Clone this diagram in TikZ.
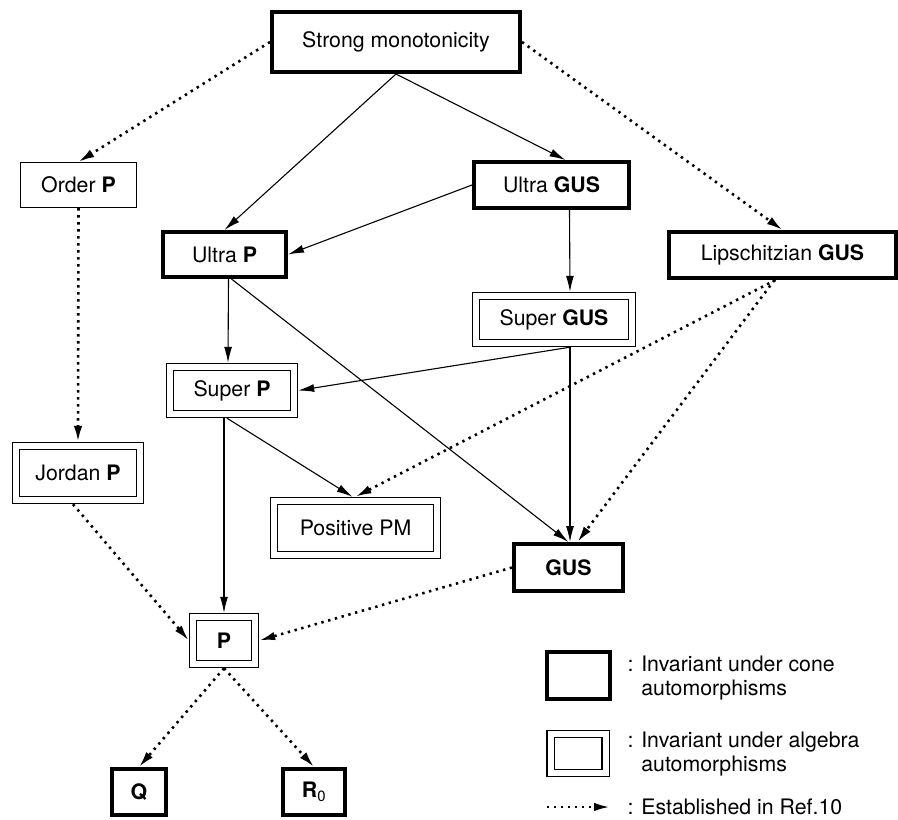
\documentclass[tikz,border=0pt]{standalone}
\usepackage{fontspec}
\setmainfont{TeX Gyre Heros}
\usetikzlibrary{arrows.meta}
\tikzset{every picture/.style={line width=1pt}}
\tikzset{
  conebox/.style={draw,line width=4pt,inner sep=0pt},
  algbox/.style={draw,line width=1.2pt,double,double distance=6pt,outer sep=4.2pt,inner sep=0pt},
  thinbox/.style={draw,line width=1.2pt,inner sep=0pt},
  impl/.style={-{Latex[length=16pt,width=8pt]},line width=1.1pt},
  refarrow/.style={-{Latex[length=16pt,width=8.5pt]},line width=2.6pt,dash pattern=on 2.4pt off 4.6pt},
}

\begin{document}
\begin{tikzpicture}[x=1pt,y=-1pt,every node/.style={font=\fontsize{21.3}{24}\selectfont}]
\useasboundingbox (0,0) rectangle (898,820);
\node[conebox,minimum width=248pt,minimum height=60pt] (strong) at (396,42) {Strong monotonicity};
\node[thinbox,minimum width=116pt,minimum height=45pt] (ordP) at (78.5,185) {Order \textbf{P}};
\node[conebox,minimum width=123pt,minimum height=45pt] (ultP) at (224.5,254.5) {Ultra \textbf{P}};
\node[conebox,minimum width=155pt,minimum height=46pt] (ultGUS) at (551.5,185) {Ultra \textbf{GUS}};
\node[conebox,minimum width=227pt,minimum height=46pt] (lipGUS) at (782.5,255) {Lipschitzian \textbf{GUS}};
\node[algbox,minimum width=156pt,minimum height=47pt] (supGUS) at (554,319.5) {Super \textbf{GUS}};
\node[algbox,minimum width=124pt,minimum height=47pt] (supP) at (232,390.5) {Super \textbf{P}};
\node[algbox,minimum width=124pt,minimum height=54pt] (jorP) at (78,473) {Jordan \textbf{P}};
\node[algbox,minimum width=163pt,minimum height=54pt] (posPM) at (355.5,528) {Positive PM};
\node[conebox,minimum width=109pt,minimum height=47pt] (gus) at (568.5,567.5) {\textbf{GUS}};
\node[algbox,minimum width=62pt,minimum height=47pt] (P) at (224,640.5) {\textbf{P}};
\node[conebox,minimum width=54pt,minimum height=46pt] (Q) at (139,792) {\textbf{Q}};
\node[conebox,minimum width=62pt,minimum height=46pt] (R0) at (314,792) {\textbf{R}\textsubscript{0}};
%
\draw[impl] (strong.south) -- (ultP.north);
\draw[impl] (strong.south) -- ([xshift=14pt]ultGUS.north);
\draw[impl] (ultGUS.west) -- (ultP.east);
\draw[impl] ([xshift=18pt]ultGUS.south) -- ([xshift=16pt]supGUS.north);
\draw[impl] ([xshift=4pt]ultP.south) -- ([xshift=-4pt]supP.north);
\draw[impl] ([xshift=7pt]ultP.south) -- (gus.north);
\draw[impl] ([xshift=16pt]supGUS.south) -- (supP.east);
\draw[impl] ([xshift=16pt]supGUS.south) -- ([xshift=1.5pt]gus.north);
\draw[impl] ([xshift=-5pt]supP.south) -- ([xshift=-3pt]posPM.north);
\draw[impl] ([xshift=-8pt]supP.south) -- (P.north);
%
\draw[refarrow] (strong.west) -- (ordP.north);
\draw[refarrow] (strong.east) -- (lipGUS.north);
\draw[refarrow] (ordP.south) -- (jorP.north);
\draw[refarrow] ([xshift=-7pt]lipGUS.south) -- (posPM.north);
\draw[refarrow] ([xshift=-8pt]lipGUS.south) -- ([xshift=9pt]gus.north);
\draw[refarrow] ([xshift=-5pt]jorP.south) -- (P.west);
\draw[refarrow] (gus.west) -- (P.east);
\draw[refarrow] (P.south) -- (Q.north);
\draw[refarrow] (P.south) -- (R0.north);
%
\node[conebox,minimum width=63pt,minimum height=47pt] (legCone) at (578.5,675.5) {};
\node[anchor=west,align=left,inner sep=0pt] (legConeTxt) at (627,678.5) {: Invariant under cone\\\phantom{: }automorphisms};
\node[algbox,minimum width=55pt,minimum height=39pt] (legAlg) at (578,753.5) {};
\node[anchor=west,align=left,inner sep=0pt] (legAlgTxt) at (627,754.5) {: Invariant under algebra\\\phantom{: }automorphisms};
\coordinate (legA) at (547,807);
\coordinate (legB) at (610,807);
\draw[refarrow] (legA) -- (legB);
\node[anchor=west,inner sep=0pt] (legRefTxt) at (627,807) {: Established in Ref.10};
\end{tikzpicture}
\end{document}
